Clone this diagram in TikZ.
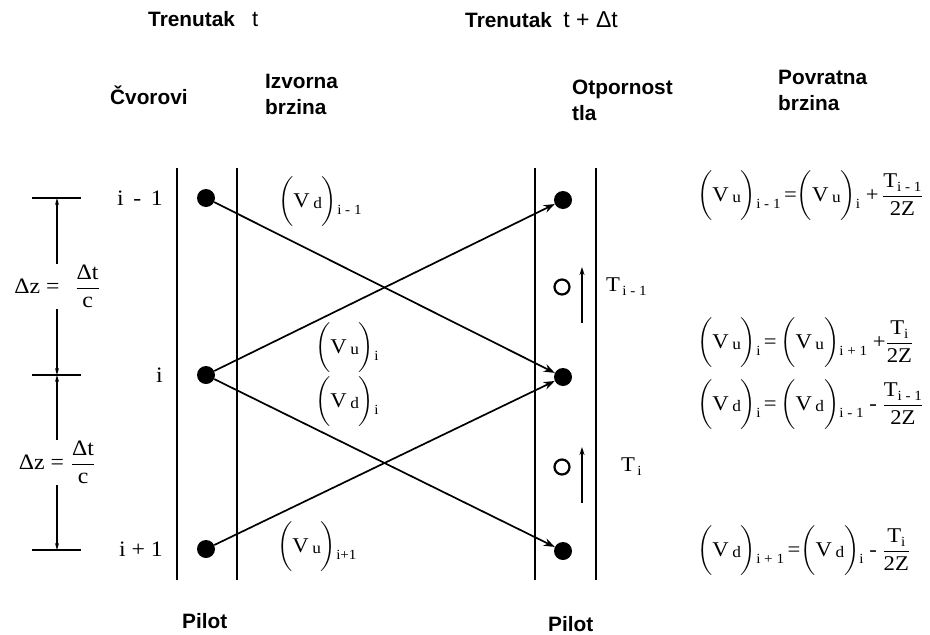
\documentclass[tikz,border=0pt]{standalone}
\usepackage{amsmath}
\usepackage{fontspec}
\setmainfont{Liberation Serif}[FakeStretch=1.08]
\setsansfont{Liberation Sans}
\usetikzlibrary{arrows.meta}
% velocity term (V_x)_k as printed in the figure
\newcommand{\vel}[2]{\ensuremath{\bigg(\text{V\,\raisebox{-1.5pt}{\fontsize{16}{16}\selectfont #1}}\bigg)}\raisebox{-7pt}{\fontsize{14}{14}\selectfont #2}}
\newcommand{\sub}[2]{#1\raisebox{-4pt}{\fontsize{14}{14}\selectfont #2}}
\newcommand{\dzlabel}[1]{Δz =\hspace{#1}\ensuremath{\dfrac{\text{Δt}}{\text{c}}}}

\begin{document}
\begin{tikzpicture}[x=1pt,y=-1pt,
    hdr/.style={font=\fontsize{20.8}{26}\selectfont\sffamily\bfseries,align=left,anchor=west,inner sep=0pt},
    lbl/.style={font=\fontsize{22}{24}\selectfont,inner sep=1pt},
    eqn/.style={font=\fontsize{21}{21}\selectfont,anchor=west,inner sep=0pt},
    dot/.style={circle,fill=black,minimum size=18pt,inner sep=0pt},
    ring/.style={circle,draw,line width=2.2pt,minimum size=15pt,inner sep=0pt},
    wall/.style={line width=2.4pt},
    conn/.style={line width=1.7pt,-{Stealth[length=11pt,width=8pt]}},
    dim/.style={line width=1.1pt,{Stealth[length=7pt,width=4pt]}-{Stealth[length=7pt,width=4pt]}}]
    \useasboundingbox (0,0) rectangle (930,635);
    % headers
    \node[hdr] (tnow) at (148,19) {Trenutak\ \ \ \textmd{\fontsize{22}{26}\selectfont t}};
    \node[hdr] (tnext) at (465,20) {Trenutak\ \ \textmd{\fontsize{23}{26}\selectfont t\;+\;Δt}};
    \node[hdr] (hnodes) at (110,95) {Čvorovi};
    \node[hdr] (hsrc) at (265,94) {Izvorna\\brzina};
    \node[hdr] (hres) at (572,100) {Otpornost\\tla};
    \node[hdr] (hret) at (778,90) {Povratna\\brzina};
    \node[hdr] (pl) at (182,621) {Pilot};
    \node[hdr] (pr) at (548,624) {Pilot};
    % pile walls
    \foreach \x in {177,237,535,596} {
       \draw[wall] (\x,168) -- (\x,580);
    }
    % nodes
    \foreach \n/\y/\t in {m/198/i\ \,-\ \,1,i/375/i,p/549/i\ +\ 1} {
       \node[dot] (L\n) at (206,\y) {};
       \node[lbl,anchor=east] (r\n) at (164,\y) {\t};
    }
    \foreach \n/\y in {m/200,i/377,p/551} {
       \node[dot] (R\n) at (563,\y) {};
    }
    % waves
    \draw[conn] (Lm) -- (Ri);
    \draw[conn] (Li) -- (Rm);
    \draw[conn] (Li) -- (Rp);
    \draw[conn] (Lp) -- (Ri);
    \node[eqn] (wdm) at (278,202) {\vel{d}{i - 1}};
    \node[eqn] (wui) at (315,348) {\vel{u}{i}};
    \node[eqn] (wdi) at (315,402) {\vel{d}{i}};
    \node[eqn] (wup) at (277,547) {\vel{u}{i+1}};
    % segment length
    \coordinate (d1) at (57,198);
    \coordinate (d2) at (57,375);
    \coordinate (d3) at (57,550);
    \foreach \c in {d1,d2,d3} {
       \draw[line width=1.1pt] ([xshift=-25pt]\c) -- ([xshift=24pt]\c);
    }
    \draw[dim] (d1) -- (d2) node[lbl,midway,fill=white,font=\fontsize{22}{22}\selectfont] (dz1) {\dzlabel{16pt}};
    \draw[dim] (d2) -- (d3) node[lbl,midway,fill=white,font=\fontsize{22}{22}\selectfont] (dz2) {\dzlabel{7pt}};
    % soil resistance
    \foreach \n/\y in {1/287,2/467} {
       \node[ring] (o\n) at (562,\y) {};
       \coordinate (sa\n) at (582,\y+36);
       \coordinate (sb\n) at (582,\y-20);
       \draw[line width=1.3pt,-{Stealth[length=8pt,width=5pt]}] (sa\n) -- (sb\n);
    }
    \node[eqn] (t1) at (606,287) {\sub{T}{\,i - 1}};
    \node[eqn] (t2) at (621,467) {\sub{T}{\,i}};
    % return velocities
    \node[eqn] (e1) at (697,196) {\vel{u}{i - 1}\,=\vel{u}{i}\ +\,\ensuremath{\dfrac{\text{\sub{T}{i - 1}}}{\text{2Z}}}};
    \node[eqn] (e2) at (697,343) {\vel{u}{i}\,=\,\vel{u}{i + 1}\ +\ensuremath{\dfrac{\text{\sub{T}{i}}}{\text{2Z}}}};
    \node[eqn] (e3) at (697,405) {\vel{d}{i}\,=\,\vel{d}{i - 1}\ -\ \ensuremath{\dfrac{\text{\sub{T}{i - 1}}}{\text{2Z}}}};
    \node[eqn] (e4) at (697,551) {\vel{d}{i + 1}\,=\vel{d}{i}\ -\ \ensuremath{\dfrac{\text{\sub{T}{i}}}{\text{2Z}}}};
\end{tikzpicture}
\end{document}
